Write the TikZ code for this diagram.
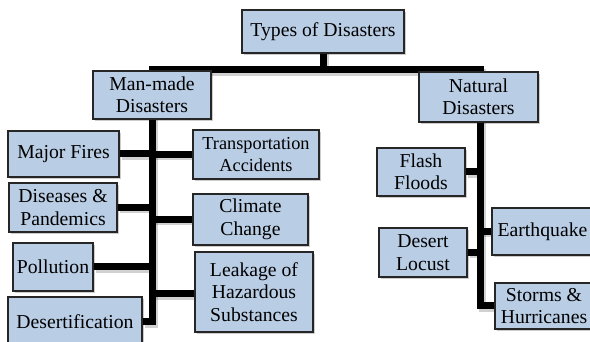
\documentclass[tikz,border=0pt]{standalone}
\usepackage{fontspec}
\setmainfont{Liberation Serif}
\usetikzlibrary{backgrounds,shadows}
\definecolor{boxblue}{RGB}{185,205,229}
\tikzset{
  box/.style={draw=black!85, line width=1.5pt, fill=boxblue, rectangle, inner sep=0pt,
    align=center, font=\fontsize{19.7}{22.5}\selectfont,
    drop shadow={shadow xshift=2pt, shadow yshift=-2pt, fill=black, opacity=0.2}},
  conn/.style={line width=7pt, draw=black, line join=miter},
  connshadow/.style={line width=7pt, draw=black, opacity=0.18, line join=miter,
    transform canvas={shift={(2.5pt,-2.5pt)}}}
}
\begin{document}
\begin{tikzpicture}[x=1pt,y=-1pt]
\useasboundingbox (0,0) rectangle (590,342);
\clip (0,0) rectangle (590,342);
\node[box, minimum width=162pt, minimum height=43pt] (types) at (323,31.5) {Types of Disasters};
\node[box, minimum width=118pt, minimum height=48pt] (man) at (152,95) {Man-made\\Disasters};
\node[box, minimum width=119pt, minimum height=50pt] (nat) at (478.5,97) {Natural\\Disasters};
\node[box, minimum width=111pt, minimum height=46pt] (fires) at (63.5,154) {Major Fires};
\node[box, minimum width=126pt, minimum height=49pt, font=\fontsize{18.3}{22}\selectfont] (trans) at (256,154.5) {Transportation\\Accidents};
\node[box, minimum width=108pt, minimum height=49pt] (dis) at (63,207.5) {Diseases \&\\Pandemics};
\node[box, minimum width=115pt, minimum height=51pt] (clim) at (250.5,219.5) {Climate\\Change};
\node[box, minimum width=80pt, minimum height=48pt] (poll) at (53,267) {Pollution};
\node[box, minimum width=118pt, minimum height=80pt] (leak) at (254,292) {Leakage of\\Hazardous\\Substances};
\node[box, minimum width=134pt, minimum height=50pt] (desert) at (75,322) {Desertification};
\node[box, minimum width=88pt, minimum height=48pt] (flash) at (421,172) {Flash\\Floods};
\node[box, minimum width=101pt, minimum height=47pt] (earth) at (542.5,231.5) {Earthquake};
\node[box, minimum width=88pt, minimum height=49pt] (locust) at (423,252.5) {Desert\\Locust};
\node[box, minimum width=98pt, minimum height=46pt] (storms) at (544,306) {Storms \&\\Hurricanes};
\coordinate (bar) at (323,70);
\coordinate (mstem) at (152,100);
\coordinate (nstem) at (480,100);
\begin{scope}[on background layer]
  \foreach \s in {connshadow,conn}{
    \draw[\s] (types.center) -- (bar);
    \draw[\s] (mstem) |- (bar) -| (nstem);
    \draw[\s] (mstem) |- (desert.east);
    \draw[\s] (nstem) |- (storms.west);
    \draw[\s] (fires.east) -- (fires.east -| mstem);
    \draw[\s] (trans.west) -- (trans.west -| mstem);
    \draw[\s] (dis.east) -- (dis.east -| mstem);
    \draw[\s] (clim.west) -- (clim.west -| mstem);
    \draw[\s] (poll.east) -- (poll.east -| mstem);
    \draw[\s] ([yshift=-2pt]leak.west) -- ([yshift=-2pt]leak.west -| mstem);
    \draw[\s] (flash.east) -- (flash.east -| nstem);
    \draw[\s] (earth.west) -- (earth.west -| nstem);
    \draw[\s] (locust.east) -- (locust.east -| nstem);
  }
\end{scope}
\end{tikzpicture}
\end{document}
